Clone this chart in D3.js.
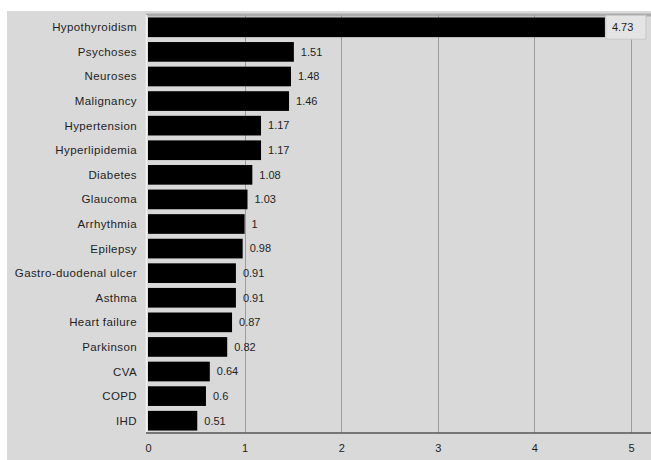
<!DOCTYPE html>
<html>
<head>
<meta charset="utf-8">
<script src="https://cdn.jsdelivr.net/npm/d3@7"></script>
<style>
  html, body { margin: 0; padding: 0; background: #fff; }
  svg { display: block; }
  text { font-family: "Liberation Sans", Arial, sans-serif; fill: #1e1e1e; }
</style>
</head>
<body>
<svg id="chart" width="651" height="460"></svg>
<script>
// Conditions, ordered from highest to lowest ratio
const categories = [
  "Hypothyroidism", "Psychoses", "Neuroses", "Malignancy", "Hypertension",
  "Hyperlipidemia", "Diabetes", "Glaucoma", "Arrhythmia", "Epilepsy",
  "Gastro-duodenal ulcer", "Asthma", "Heart failure", "Parkinson", "CVA",
  "COPD", "IHD"
];
const values = [
  4.73, 1.51, 1.48, 1.46, 1.17,
  1.17, 1.08, 1.03, 1, 0.98,
  0.91, 0.91, 0.87, 0.82, 0.64,
  0.6, 0.51
];
const valueLabels = [
  "4.73", "1.51", "1.48", "1.46", "1.17",
  "1.17", "1.08", "1.03", "1", "0.98",
  "0.91", "0.91", "0.87", "0.82", "0.64",
  "0.6", "0.51"
];
const xTicks = [0, 1, 2, 3, 4, 5];

const svg = d3.select("#chart");

// Panel background
svg.append("rect")
  .attr("x", 7).attr("y", 11)
  .attr("width", 644).attr("height", 449)
  .attr("fill", "#d9d9d9");

const plot = { left: 148, right: 631, top: 15, bottom: 433 };

const x = d3.scaleLinear().domain([0, 5]).range([plot.left, plot.right]);
const y = d3.scaleBand()
  .domain(categories)
  .range([plot.top, plot.bottom])
  .paddingInner(0.2)
  .paddingOuter(0.1);

// Top border of the plot
svg.append("line")
  .attr("x1", plot.left - 2).attr("x2", 651)
  .attr("y1", 15).attr("y2", 15)
  .attr("stroke", "#ababab").attr("stroke-width", 3);

// Vertical gridlines
svg.append("g")
  .selectAll("line")
  .data(xTicks.filter(d => d > 0))
  .join("line")
  .attr("x1", d => Math.round(x(d)) + 0.5)
  .attr("x2", d => Math.round(x(d)) + 0.5)
  .attr("y1", plot.top)
  .attr("y2", plot.bottom)
  .attr("stroke", "#9c9c9c")
  .attr("stroke-width", 1);

// Left edge of the plot
svg.append("line")
  .attr("x1", plot.left - 1.5).attr("x2", plot.left - 1.5)
  .attr("y1", plot.top).attr("y2", plot.bottom)
  .attr("stroke", "#f2f2f2").attr("stroke-width", 1.5);

// Bars
svg.append("g")
  .selectAll("rect")
  .data(categories)
  .join("rect")
  .attr("x", x(0))
  .attr("y", d => y(d))
  .attr("width", (d, i) => x(values[i]) - x(0))
  .attr("height", y.bandwidth())
  .attr("fill", "#000");

// Soft box behind the largest value label
const firstCat = categories[0];
svg.append("rect")
  .attr("x", x(values[0]) + 1)
  .attr("y", y(firstCat) - 2)
  .attr("width", 40)
  .attr("height", y.bandwidth() + 4)
  .attr("fill", "#e4e4e4")
  .attr("stroke", "#c8c8c8")
  .attr("stroke-width", 1);

// Value labels
svg.append("g")
  .selectAll("text")
  .data(categories)
  .join("text")
  .attr("x", (d, i) => x(values[i]) + 7)
  .attr("y", d => y(d) + y.bandwidth() / 2)
  .attr("dy", "0.35em")
  .attr("font-size", 11)
  .text((d, i) => valueLabels[i]);

// Category labels
svg.append("g")
  .selectAll("text")
  .data(categories)
  .join("text")
  .attr("x", 137)
  .attr("y", d => y(d) + y.bandwidth() / 2)
  .attr("dy", "0.35em")
  .attr("text-anchor", "end")
  .attr("font-size", 11.5)
  .attr("letter-spacing", 0.4)
  .text(d => d);

// Bottom axis
const axis = svg.append("g")
  .attr("transform", `translate(0,${plot.bottom})`)
  .call(d3.axisBottom(x).tickValues(xTicks).tickSize(0).tickPadding(11).tickFormat(d3.format("d")));
axis.select(".domain")
  .attr("stroke", "#555")
  .attr("stroke-width", 1.5)
  .attr("d", `M${plot.left - 2},0H651`);
axis.selectAll("text")
  .attr("font-size", 11)
  .attr("font-family", "Liberation Sans, Arial, sans-serif")
  .attr("fill", "#1e1e1e");
</script>
</body>
</html>
